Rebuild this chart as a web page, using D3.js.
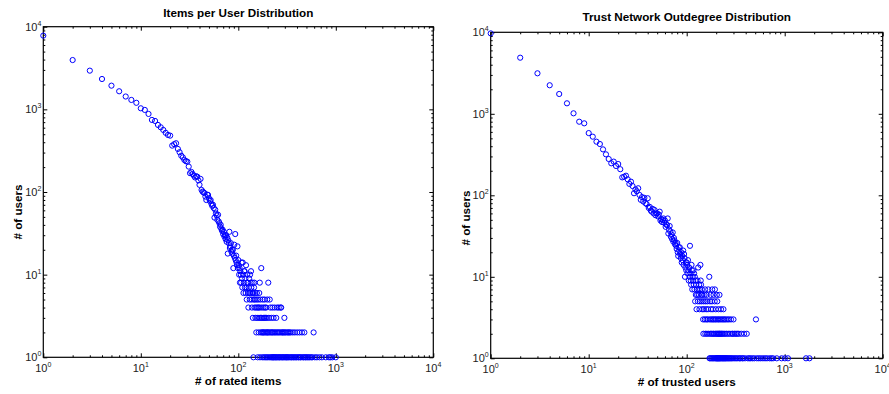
<!DOCTYPE html>
<html>
<head>
<meta charset="utf-8">
<script src="https://cdn.jsdelivr.net/npm/d3@7"></script>
<style>
  body { margin: 0; background: #fff; }
  svg { font-family: "Liberation Sans", Arial, sans-serif; }
</style>
</head>
<body>
<div id="chart"></div>
<script>
// left panel: # of rated items -> # of users
const itemsCount = [1, 2, 3, 4, 5, 6, 7, 8, 9, 10, 11, 12, 13, 14, 15, 16, 17, 18, 19, 20,
  21, 22, 23, 24, 25, 26, 27, 28, 29, 30, 31, 32, 33, 34, 35, 36, 37, 38, 39, 40,
  41, 42, 43, 44, 45, 46, 47, 48, 49, 50, 51, 52, 53, 54, 55, 56, 57, 58, 59, 60,
  61, 62, 63, 64, 65, 66, 67, 68, 69, 70, 71, 72, 73, 74, 75, 76, 77, 78, 79, 80,
  81, 82, 83, 84, 85, 86, 87, 88, 89, 90, 91, 92, 93, 94, 95, 96, 97, 98, 99, 100,
  101, 102, 103, 104, 105, 106, 107, 108, 109, 110, 111, 112, 113, 114, 115, 116, 117, 118, 119, 120,
  121, 122, 123, 124, 125, 126, 127, 128, 129, 130, 131, 132, 133, 134, 135, 136, 137, 138, 139, 140,
  141, 142, 143, 144, 145, 146, 147, 148, 149, 150, 152, 153, 154, 155, 156, 157, 158, 160, 161, 162,
  163, 164, 165, 166, 167, 168, 169, 170, 172, 173, 174, 175, 176, 178, 179, 180, 181, 182, 183, 185,
  186, 187, 188, 189, 190, 192, 193, 195, 196, 197, 198, 200, 201, 203, 205, 206, 208, 210, 211, 213,
  215, 217, 218, 220, 222, 224, 225, 227, 228, 230, 232, 234, 236, 237, 240, 242, 245, 246, 248, 250,
  252, 255, 258, 260, 262, 264, 268, 270, 272, 275, 276, 280, 283, 285, 288, 292, 295, 297, 300, 303,
  307, 310, 315, 318, 322, 326, 330, 335, 340, 345, 350, 356, 362, 368, 375, 380, 388, 395, 402, 410,
  418, 425, 432, 440, 450, 460, 468, 476, 485, 495, 510, 525, 540, 560, 575, 592, 610, 640, 680, 720,
  790, 850, 880, 920, 1000];
const itemsUsers = [7800, 3950, 2940, 2330, 1935, 1655, 1430, 1300, 1200, 1030, 984, 880, 745, 724, 648, 607, 564, 520, 490, 481,
  364, 379, 389, 332, 303, 275, 262, 244, 236, 233, 203, 169, 175, 165, 158, 150, 155, 153, 138, 122,
  144, 106, 101, 99, 97, 88, 80, 93, 92, 84, 78, 80, 72, 68, 70, 64, 49, 61, 55, 52,
  46, 53, 44, 42, 38, 40, 36, 34, 35, 31, 33, 29, 30, 27, 30, 25, 28, 18, 26, 24,
  33, 21, 22, 24, 19, 20, 18, 20, 12, 17, 23, 16, 31, 15, 17, 14, 13, 22, 12, 15,
  13, 10, 12, 8, 11, 10, 8, 14, 9, 7, 14, 10, 6, 8, 11, 11, 7, 9, 6, 13,
  7, 5, 10, 8, 8, 6, 4, 7, 9, 6, 5, 10, 6, 8, 11, 7, 5, 4, 6, 8,
  3, 6, 1, 5, 7, 8, 4, 5, 6, 3, 4, 2, 5, 6, 3, 4, 1, 5, 4, 2,
  3, 6, 4, 8, 1, 5, 3, 2, 12, 4, 3, 2, 1, 5, 2, 3, 4, 2, 1, 3,
  5, 2, 4, 1, 3, 2, 4, 1, 3, 2, 5, 2, 1, 8, 2, 3, 1, 5, 2, 4,
  1, 2, 3, 1, 2, 4, 1, 2, 1, 3, 1, 2, 4, 1, 2, 1, 3, 1, 2, 4,
  1, 2, 1, 4, 2, 1, 1, 2, 4, 4, 1, 2, 1, 2, 1, 2, 1, 3, 2, 1,
  2, 1, 1, 2, 1, 2, 1, 2, 1, 2, 1, 1, 2, 1, 1, 2, 1, 1, 2, 1,
  1, 2, 1, 1, 2, 1, 1, 2, 1, 1, 1, 1, 1, 1, 1, 2, 1, 1, 1, 1,
  1, 1, 1, 1, 1];

// right panel: # of trusted users -> # of users
const trustCount = [1, 2, 3, 4, 5, 6, 7, 8, 9, 10, 11, 12, 13, 14, 15, 16, 17, 18, 19, 20,
  21, 22, 23, 24, 25, 26, 27, 28, 29, 30, 31, 32, 33, 34, 35, 36, 37, 38, 39, 40,
  41, 42, 43, 44, 45, 46, 47, 48, 49, 50, 51, 52, 53, 54, 55, 56, 57, 58, 59, 60,
  61, 62, 63, 64, 65, 66, 67, 68, 69, 70, 71, 72, 73, 74, 75, 76, 77, 78, 79, 80,
  81, 82, 83, 84, 85, 86, 87, 88, 89, 90, 91, 92, 93, 94, 95, 96, 97, 98, 99, 100,
  101, 102, 103, 104, 105, 106, 107, 108, 109, 110, 111, 112, 113, 114, 115, 116, 117, 118, 119, 120,
  121, 122, 123, 124, 125, 126, 127, 128, 129, 130, 131, 132, 133, 134, 135, 136, 137, 138, 139, 140,
  141, 142, 143, 144, 145, 147, 148, 149, 150, 152, 153, 154, 155, 156, 158, 159, 160, 161, 163, 164,
  165, 166, 168, 170, 171, 172, 173, 174, 175, 176, 177, 178, 179, 180, 181, 182, 183, 184, 185, 186,
  187, 188, 189, 190, 191, 193, 194, 195, 196, 197, 198, 199, 200, 201, 202, 203, 204, 205, 206, 207,
  208, 209, 210, 211, 212, 213, 214, 215, 216, 217, 218, 220, 221, 222, 224, 225, 227, 228, 229, 231,
  233, 235, 236, 237, 239, 240, 242, 244, 246, 248, 250, 252, 255, 257, 260, 262, 265, 268, 270, 273,
  276, 280, 283, 286, 290, 293, 296, 300, 303, 308, 312, 318, 322, 328, 333, 340, 346, 352, 360, 368,
  376, 385, 394, 410, 420, 435, 450, 470, 490, 509, 520, 545, 570, 600, 630, 660, 700, 730, 760, 830,
  930, 1005, 1080, 1650, 1790];
const trustUsers = [9700, 4880, 3140, 2240, 1750, 1345, 1014, 800, 764, 580, 524, 455, 426, 366, 318, 279, 247, 259, 229, 242,
  209, 166, 169, 174, 157, 138, 147, 130, 106, 118, 112, 122, 101, 88, 95, 84, 93, 80, 78, 92,
  70, 72, 65, 63, 68, 60, 66, 57, 60, 60, 55, 58, 63, 49, 51, 47, 50, 52, 46, 49,
  41, 44, 43, 52, 34, 38, 42, 36, 31, 33, 29, 35, 27, 30, 28, 25, 26, 24, 22, 26,
  20, 18, 23, 21, 23, 19, 17, 20, 15, 18, 16, 21, 14, 19, 17, 10, 13, 15, 12, 15,
  14, 11, 16, 12, 9, 13, 10, 24, 11, 9, 8, 14, 12, 7, 10, 9, 12, 8, 11, 7,
  10, 5, 9, 6, 8, 4, 7, 6, 9, 5, 13, 7, 6, 8, 4, 5, 7, 14, 9, 8,
  6, 5, 7, 4, 6, 3, 2, 5, 4, 6, 3, 7, 2, 5, 4, 3, 6, 2, 5, 3,
  4, 7, 2, 10, 1, 3, 5, 1, 2, 6, 4, 3, 1, 2, 5, 7, 1, 3, 4, 2,
  1, 6, 3, 2, 1, 5, 7, 3, 1, 2, 4, 1, 3, 2, 1, 6, 1, 5, 2, 1,
  3, 1, 2, 4, 1, 3, 2, 1, 6, 2, 1, 3, 1, 2, 4, 1, 2, 3, 1, 2,
  1, 3, 1, 4, 2, 1, 3, 1, 2, 1, 3, 1, 2, 1, 3, 1, 2, 1, 3, 1,
  2, 1, 3, 1, 2, 1, 2, 3, 1, 2, 1, 2, 1, 2, 1, 2, 1, 1, 2, 1,
  1, 2, 1, 2, 1, 1, 1, 1, 1, 3, 1, 1, 1, 1, 1, 1, 1, 1, 1, 1,
  1, 1, 1, 1, 1];

const decades = [1, 10, 100, 1000, 10000];

const width = 889;
const height = 394;

const svg = d3.select('#chart')
  .append('svg')
  .attr('width', width)
  .attr('height', height);

const minorTicks = [];
[1, 10, 100, 1000].forEach(d => {
  for (let k = 2; k <= 9; k++) minorTicks.push(d * k);
});

drawPanel = function (opt) {
  const x = d3.scaleLog().domain([1, 10000]).range([opt.left, opt.right]);
  const y = d3.scaleLog().domain([1, 10000]).range([opt.bottom, opt.top]);
  const g = svg.append('g');

  // minor + major ticks on all four sides, pointing inward
  const sides = [
    [d3.axisBottom(x), opt.bottom, 'x', 1],
    [d3.axisTop(x), opt.top, 'x', -1],
    [d3.axisLeft(y), opt.left, 'y', 1],
    [d3.axisRight(y), opt.right, 'y', -1]
  ];
  sides.forEach(([axis, pos, dir]) => {
    [[minorTicks, 2], [decades, 4]].forEach(([vals, len]) => {
      const a = axis.scale().copy ? axis : axis;
      const ag = g.append('g')
        .attr('transform', dir === 'x' ? `translate(0,${pos})` : `translate(${pos},0)`)
        .call(axis.tickValues(vals).tickSizeInner(-len).tickSizeOuter(0).tickFormat(''));
      ag.select('.domain').remove();
      ag.selectAll('line').attr('stroke', '#000').attr('stroke-width', 1);
    });
  });

  // box
  g.append('rect')
    .attr('x', opt.left)
    .attr('y', opt.top)
    .attr('width', opt.right - opt.left)
    .attr('height', opt.bottom - opt.top)
    .attr('fill', 'none')
    .attr('stroke', '#000')
    .attr('stroke-width', 1.2);

  // tick labels 10^n
  const xl = g.selectAll('.xlab')
    .data(decades)
    .join('text')
    .attr('x', d => x(d))
    .attr('y', opt.bottom + 15)
    .attr('text-anchor', 'middle')
    .attr('font-size', 11)
    .attr('fill', '#222');
  xl.append('tspan').text('10');
  xl.append('tspan').attr('dy', -5).attr('font-size', 7).text(d => Math.round(Math.log10(d)));

  const yl = g.selectAll('.ylab')
    .data(decades)
    .join('text')
    .attr('x', opt.left - 2)
    .attr('y', d => y(d) + 4)
    .attr('text-anchor', 'end')
    .attr('font-size', 11)
    .attr('fill', '#222');
  yl.append('tspan').text('10');
  yl.append('tspan').attr('dy', -5).attr('font-size', 7).text(d => Math.round(Math.log10(d)));

  // points
  g.append('g')
    .selectAll('circle')
    .data(d3.range(opt.xs.length))
    .join('circle')
    .attr('cx', i => x(opt.xs[i]))
    .attr('cy', i => y(opt.ys[i]))
    .attr('r', 2.6)
    .attr('fill', 'none')
    .attr('stroke', '#0000ff')
    .attr('stroke-width', 1);

  // titles
  g.append('text')
    .text(opt.title)
    .attr('x', (opt.left + opt.right) / 2)
    .attr('y', opt.titleY)
    .attr('text-anchor', 'middle')
    .attr('font-weight', 'bold')
    .attr('font-size', 11.7);

  g.append('text')
    .text(opt.xLabel)
    .attr('x', (opt.left + opt.right) / 2)
    .attr('y', opt.bottom + 28)
    .attr('text-anchor', 'middle')
    .attr('font-weight', 'bold')
    .attr('font-size', 11.7);

  g.append('text')
    .text('# of users')
    .attr('transform', `translate(${opt.yLabelX},${opt.yLabelY}) rotate(-90)`)
    .attr('text-anchor', 'middle')
    .attr('font-weight', 'bold')
    .attr('font-size', 11.7);
}

drawPanel({
  left: 43.3, right: 433.3, top: 26.7, bottom: 357.3,
  xs: itemsCount, ys: itemsUsers,
  title: 'Items per User Distribution', titleY: 17,
  xLabel: '# of rated items', yLabelX: 22, yLabelY: 212
});

drawPanel({
  left: 490.7, right: 882.7, top: 32.3, bottom: 358.3,
  xs: trustCount, ys: trustUsers,
  title: 'Trust Network Outdegree Distribution', titleY: 21,
  xLabel: '# of trusted users', yLabelX: 470, yLabelY: 218
});
</script>
</body>
</html>
